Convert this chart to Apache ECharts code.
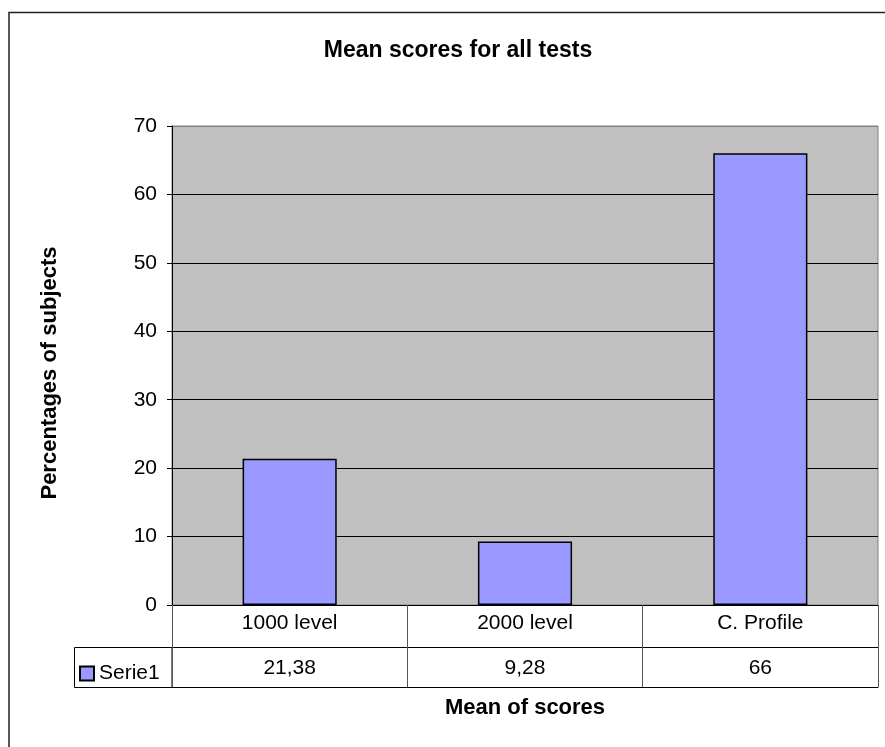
<!DOCTYPE html>
<html>
<head>
<meta charset="utf-8">
<script src="https://cdn.jsdelivr.net/npm/echarts@6/dist/echarts.min.js"></script>
<style>
  body { margin: 0; background: #fff; }
  #chart { width: 885px; height: 747px; }
</style>
</head>
<body>
<div id="chart"></div>
<script>
// 数据
const categories = ['1000 level', '2000 level', 'C. Profile']
const seriesName = 'Serie1'
const scores = [21.38, 9.28, 66]
const yTicks = { min: 0, max: 70, interval: 10 }

// 表格里的数值，用逗号作小数点
const tableValues = scores.map(v => String(v).replace('.', ','))

const font = 'Arial, "Liberation Sans", sans-serif'

const chart = echarts.init(document.getElementById('chart'))

const option = {
  animation: false,
  backgroundColor: '#fff',
  textStyle: { fontFamily: font, color: '#000' },
  title: {
    text: 'Mean scores for all tests',
    left: 453,
    textAlign: 'center',
    top: 34,
    textStyle: { fontSize: 23, fontWeight: 'bold', color: '#000', fontFamily: font }
  },
  legend: {
    data: [seriesName],
    left: 74,
    top: 658,
    icon: 'rect',
    itemWidth: 14,
    itemHeight: 14,
    textStyle: { fontSize: 21, color: '#000', fontFamily: font }
  },
  grid: {
    left: 172,
    right: 7,
    top: 126,
    bottom: 142,
    show: true,
    backgroundColor: '#C0C0C0',
    borderColor: '#808080',
    borderWidth: 1
  },
  xAxis: [
    {
      // 类别行
      type: 'category',
      data: categories,
      position: 'bottom',
      axisLine: { lineStyle: { color: '#000', width: 1 } },
      axisTick: { show: true, length: 82, lineStyle: { color: '#555' } },
      axisLabel: { fontSize: 21, color: '#000', margin: 8, lineHeight: 21, fontFamily: font }
    },
    {
      // 数值行
      type: 'category',
      data: tableValues,
      position: 'bottom',
      offset: 42,
      axisLine: { lineStyle: { color: '#000', width: 1 } },
      axisTick: { show: false },
      axisLabel: { fontSize: 21, color: '#000', margin: 11, lineHeight: 21, fontFamily: font }
    },
    {
      // 表格底线 + 轴标题
      type: 'category',
      data: categories,
      position: 'bottom',
      offset: 82,
      axisLine: { lineStyle: { color: '#000', width: 1 } },
      axisTick: { show: false },
      axisLabel: { show: false },
      name: 'Mean of scores',
      nameLocation: 'middle',
      nameGap: 10,
      nameTextStyle: { fontSize: 22, fontWeight: 'bold', color: '#000', fontFamily: font }
    }
  ],
  yAxis: {
    type: 'value',
    min: yTicks.min,
    max: yTicks.max,
    interval: yTicks.interval,
    axisLine: { show: true, lineStyle: { color: '#000' } },
    axisTick: { show: true, length: 5, lineStyle: { color: '#000' } },
    axisLabel: { fontSize: 21, color: '#000', margin: 15, fontFamily: font },
    splitLine: {
      show: true,
      lineStyle: {
        color: ['#000', '#000', '#000', '#000', '#000', '#000', '#000', '#808080'],
        width: 1
      }
    }
  },
  series: [
    {
      name: seriesName,
      type: 'bar',
      xAxisIndex: 0,
      data: scores,
      barWidth: '40%',
      itemStyle: { color: '#9999FF', borderColor: '#000', borderWidth: 1.5 }
    }
  ],
  graphic: [
    {
      // 外框
      type: 'rect',
      silent: true,
      shape: { x: 9, y: 12.5, width: 900, height: 760 },
      style: { fill: 'none', stroke: '#222', lineWidth: 1.5 }
    },
    {
      // 图例单元格
      type: 'rect',
      silent: true,
      shape: { x: 74.5, y: 647.5, width: 97.5, height: 40 },
      style: { fill: 'none', stroke: '#000', lineWidth: 1 }
    },
    {
      type: 'text',
      silent: true,
      x: 50,
      y: 373,
      rotation: Math.PI / 2,
      style: {
        text: 'Percentages of subjects',
        fill: '#000',
        font: 'bold 22px ' + font,
        textAlign: 'center',
        textVerticalAlign: 'middle'
      }
    }
  ]
}

chart.setOption(option)
</script>
</body>
</html>
